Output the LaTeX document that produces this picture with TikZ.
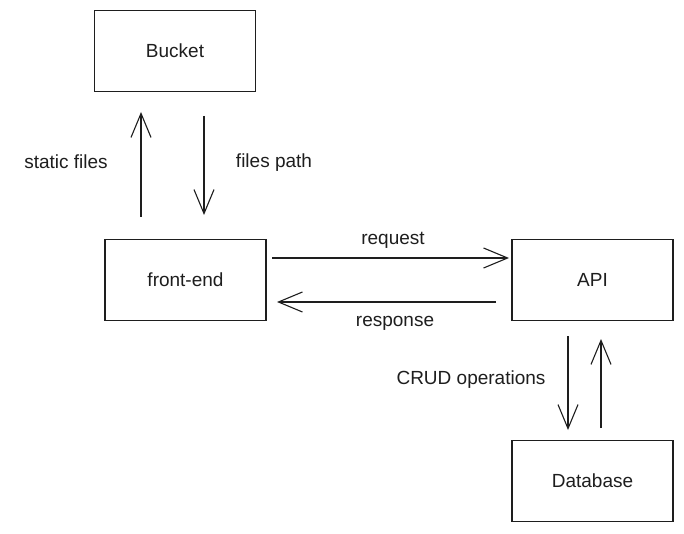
\documentclass[tikz,border=0pt]{standalone}
\usepackage{fontspec}
\setmainfont{Liberation Sans}
\usetikzlibrary{arrows.meta}
\definecolor{ink}{HTML}{1E1E1E}
\begin{document}
\begin{tikzpicture}[x=1pt,y=-1pt,
  boxnode/.style={draw=ink,line width=1.4pt,rectangle,minimum width=161pt,minimum height=81pt,inner sep=0pt,font=\fontsize{19}{22}\selectfont,text=ink},
  conn/.style={draw=ink,line width=1.2pt,-{Straight Barb[length=24pt,width=20pt,line width=1.1pt]}},
  lbl/.style={font=\fontsize{19}{22}\selectfont,text=ink,inner sep=0pt}]
\useasboundingbox (0,0) rectangle (684,534);
\fill[white] (0,0) rectangle (684,534);
\node[boxnode] (bucket) at (175,51) {Bucket};
\node[boxnode] (front) at (185.5,280) {front-end};
\node[boxnode] (api) at (592.5,280) {API};
\node[boxnode] (db) at (592.5,481) {Database};
\coordinate (a1s) at (141,217); \coordinate (a1e) at (141,112);
\coordinate (a2s) at (204,116); \coordinate (a2e) at (204,215);
\coordinate (a3s) at (272,258); \coordinate (a3e) at (509,258);
\coordinate (a4s) at (496,302); \coordinate (a4e) at (277,302);
\coordinate (a5s) at (568,336); \coordinate (a5e) at (568,430);
\coordinate (a6s) at (601,428); \coordinate (a6e) at (601,339);
\draw[conn] (a1s) -- (a1e);
\draw[conn] (a2s) -- (a2e);
\draw[conn] (a3s) -- (a3e);
\draw[conn] (a4s) -- (a4e);
\draw[conn] (a5s) -- (a5e);
\draw[conn] (a6s) -- (a6e);
\node[lbl] (l1) at (66,162) {static files};
\node[lbl] (l2) at (274,163) {files path};
\node[lbl] (l3) at (393,240) {request};
\node[lbl] (l4) at (395,323) {response};
\node[lbl] (l5) at (471,380) {CRUD operations};
\end{tikzpicture}
\end{document}
